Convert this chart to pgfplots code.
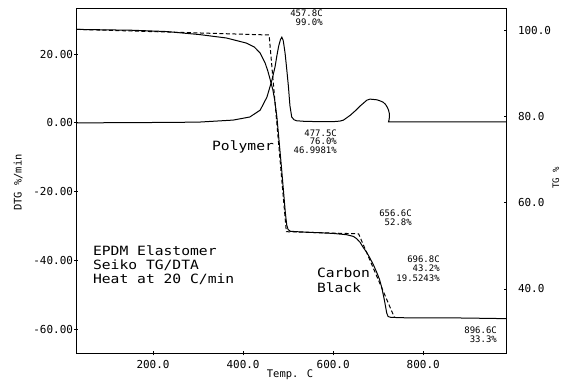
\documentclass[border=0pt]{standalone}
\usepackage{fontspec}
\setmainfont{DejaVu Sans Mono}
\setmonofont{DejaVu Sans Mono}
\newfontfamily\widefont[FakeStretch=1.15]{DejaVu Sans Mono}
\usepackage{pgfplots}
\pgfplotsset{compat=1.18}
\begin{document}
\begin{tikzpicture}
% ---------------- DTG axis (left) ----------------
\begin{axis}[
  at={(0,0)}, anchor=south west,
  scale only axis, width=430bp, height=345bp,
  xmin=30, xmax=985, ymin=-67.0, ymax=33.3,
  axis line style={line width=1.1bp},
  xtick={200,400,600,800}, xticklabels={200.0,400.0,600.0,800.0},
  ytick={-60,-40,-20,0,20}, yticklabels={-60.00,-40.00,-20.00,0.00,20.00},
  xtick pos=lower, ytick pos=left,
  tick align=center, major tick length=4bp,
  tick style={line width=0.8bp, black},
  /pgf/number format/assume math mode=true,
  ticklabel style={font=\fontsize{11}{12}\selectfont},
  xticklabel style={yshift=-2bp},
  yticklabel style={xshift=2bp},
  xlabel={Temp. C}, ylabel={DTG \%/min},
  xlabel style={font=\fontsize{10.5}{12}\selectfont, at={(axis description cs:0.4965,-0.063)}, anchor=center},
  ylabel style={font=\fontsize{10.5}{12}\selectfont, at={(axis description cs:-0.136,0.495)}, anchor=center, rotate=0},
  clip=false,
]
\addplot[black, line width=1bp] coordinates {
 (30,0.0) (150,0.05) (300,0.2) (378,0.8) (415,1.7) (438,3.7) (453,7.5) (464,12.4)
 (471,16.3) (475,19.5) (479,22.3) (483,24.2) (486,24.9) (489,24.0) (491,22.3) (493.3,20.2)
 (497,15.5) (500.7,10.5) (504,5.0) (508,1.7) (513,0.9) (519,0.6) (540,0.4) (600,0.35)
 (615,0.5) (623,0.8) (638,2.2) (650,3.6) (660,4.9) (675,6.6) (682,6.9) (689,6.8)
 (697,6.7) (704,6.4) (711,6.0) (716,5.4) (720,4.6) (723,3.7) (725,2.6) (725,1.7)
 (724,0.8) (723,0.3) (750,0.3) (850,0.3) (985,0.3)
};
\node[anchor=north east, align=right, inner sep=0pt, font=\fontsize{9}{9}\selectfont]
  at (axis description cs:0.573,0.997) {457.8C\\99.0\%};
\node[anchor=north east, align=right, inner sep=0pt, font=\fontsize{9}{8.7}\selectfont]
  at (axis description cs:0.6058,0.649) {477.5C\\76.0\%\\46.9981\%};
\node[anchor=north east, align=right, inner sep=0pt, font=\fontsize{9}{9}\selectfont]
  at (axis description cs:0.780,0.417) {656.6C\\52.8\%};
\node[anchor=north east, align=right, inner sep=0pt, font=\fontsize{9}{9.5}\selectfont]
  at (axis description cs:0.845,0.2835) {696.8C\\43.2\%\\19.5243\%};
\node[anchor=north east, align=right, inner sep=0pt, font=\fontsize{9}{9}\selectfont]
  at (axis description cs:0.9779,0.0777) {896.6C\\33.3\%};
\node[anchor=west, inner sep=0pt, font=\widefont\fontsize{12.8}{14}\selectfont]
  at (axis description cs:0.315,0.598) {Polymer};
\node[anchor=north west, align=left, inner sep=0pt, font=\widefont\fontsize{12.8}{14.5}\selectfont]
  at (axis description cs:0.559,0.247) {Carbon\\Black};
\node[anchor=north west, align=left, inner sep=0pt, font=\widefont\fontsize{12.8}{14}\selectfont]
  at (axis description cs:0.038,0.311) {EPDM Elastomer\\Seiko TG/DTA\\Heat at 20 C/min};
\end{axis}
% ---------------- TG axis (right) ----------------
\begin{axis}[
  at={(0,0)}, anchor=south west,
  scale only axis, width=430bp, height=345bp,
  xmin=30, xmax=985, ymin=25.05, ymax=105.2,
  axis x line=none, axis y line*=right,
  axis line style={line width=1.1bp},
  ytick={40,60,80,100}, yticklabels={40.0,60.0,80.0,100.0},
  ytick pos=right, tick align=inside, major tick length=3bp,
  tick style={line width=0.8bp, black},
  /pgf/number format/assume math mode=true,
  ticklabel style={font=\fontsize{11}{12}\selectfont},
  yticklabel style={xshift=8bp},
  ylabel={TG \%},
  ylabel style={font=\fontsize{9}{10}\selectfont, at={(axis description cs:1.115,0.508)}, anchor=center, rotate=0},
]
\addplot[black, line width=1bp] coordinates {
 (30,100.3) (154,100.1) (230,99.8) (303,99.1) (363,98.3) (408,97.1) (425,96.2)
 (437.8,94.8) (448.9,92.5) (455,90.6) (460,88.7) (466,86.3) (470,84.0) (475,80.0)
 (485,68.5) (494,57.5) (497,54.8) (500,53.8) (505,53.4) (520,53.3) (560,53.1)
 (600,52.9) (630,52.6) (645,52.2) (652,51.7) (660,50.8) (667,49.6) (674,48.6) (681,47.3)
 (689,45.7) (697,43.8) (703,42.2) (708,40.3) (714,37.3) (719,34.4) (722,33.6)
 (728,33.4) (760,33.3) (850,33.3) (920,33.2) (985,33.1)
};
\addplot[black, line width=1bp, dash pattern=on 4bp off 2.5bp] coordinates {
 (30,100.3) (457.8,99.0) (496,53.3) (656.6,52.8) (736,33.4)
};
\end{axis}
\pgfresetboundingbox
\path (-76.5bp,-31.7bp) rectangle (487.5bp,353.3bp);
\end{tikzpicture}
\end{document}
